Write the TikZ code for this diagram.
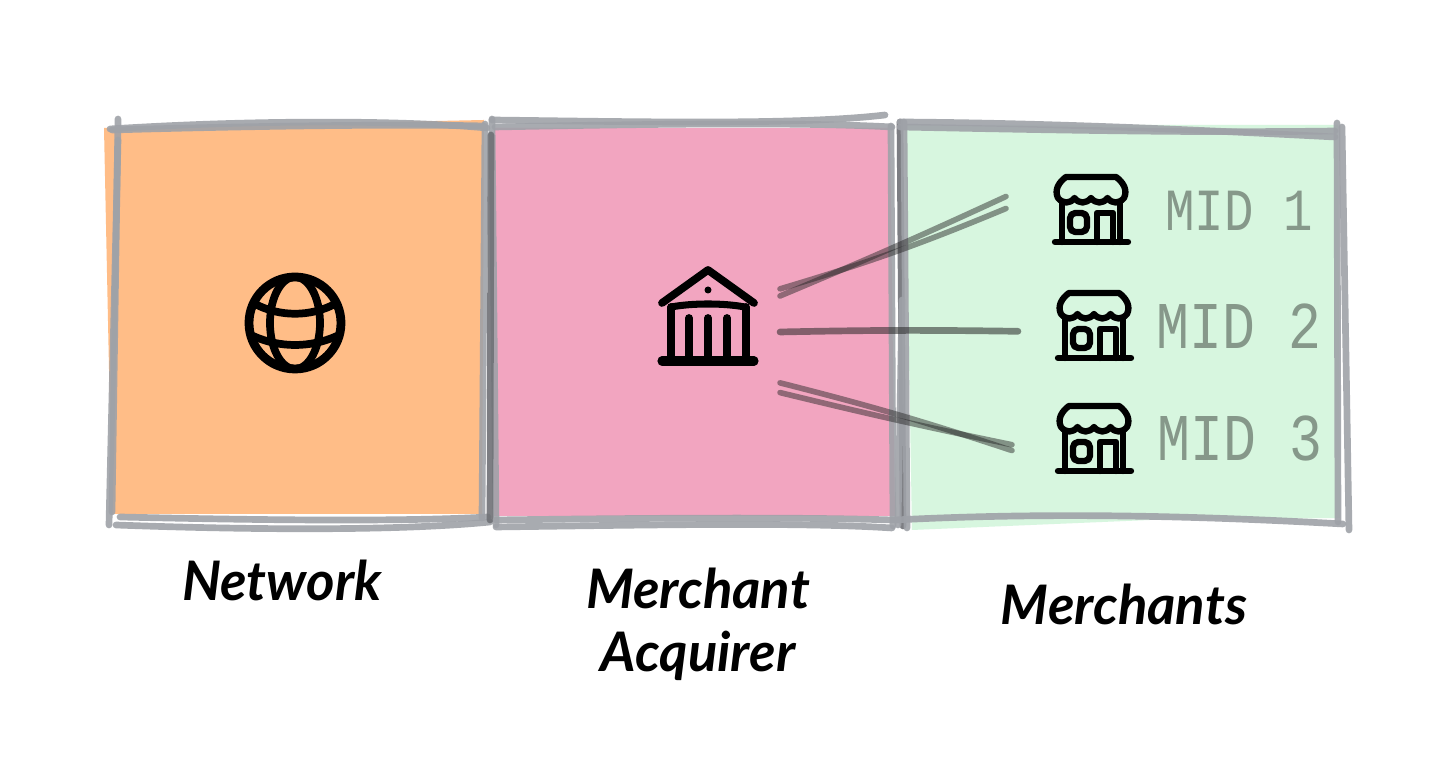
\documentclass[tikz,border=0pt]{standalone}
\usepackage{fontspec}
\setmainfont{Lato}
\setmonofont{Liberation Mono}
\usepackage{tikz}
\definecolor{orangebox}{HTML}{FFBD87}
\definecolor{pinkbox}{HTML}{F2A5C0}
\definecolor{greenbox}{HTML}{D7F6DF}
\definecolor{sketchgrey}{HTML}{9FA2A8}
\definecolor{midgrey}{HTML}{86988A}
\tikzset{
	pics/globeicon/.style={code={
		\draw[iconline, line width=2.5pt] (0,0) circle [x radius=46, y radius=-46];
		\draw[iconline, line width=2.2pt] (0,0) circle [x radius=25, y radius=-46];
		\draw[iconline, line width=2.2pt] (-40,-19) .. controls (-15,-6) and (15,-6) .. (40,-19);
		\draw[iconline, line width=2.2pt] (-42,13) .. controls (-15,25) and (15,25) .. (42,13);
	}},
	pics/bankicon/.style={code={
		\draw[iconline, line width=2.2pt] (-46,-15) -- (0,-48) -- (46,-15);
		\fill (0,-28) circle [radius=3.5];
		\draw[iconline, line width=2pt] (-37,-11) .. controls (-15,-15) and (15,-15) .. (37,-11);
		\draw[iconline, line width=2.2pt] (-37,-11) -- (-37,42);
		\draw[iconline, line width=2.2pt] (38,-11) -- (38,42);
		\foreach \x in {-19,0,19}
			\draw[iconline, line width=2.2pt] (\x,0) -- (\x,42);
		\draw[iconline, line width=2.6pt] (-46,43) -- (46,43);
	}},
	pics/shopicon/.style={code={
		\draw[iconline, line width=1.8pt] (-33,-12) .. controls (-37,-20) and (-32,-28) .. (-25,-33) -- (25,-33) .. controls (32,-28) and (37,-20) .. (33,-12)
			.. controls (28,-6) and (21,-6) .. (16.5,-12) .. controls (12,-6) and (5,-6) .. (0,-12)
			.. controls (-5,-6) and (-12,-6) .. (-16.5,-12) .. controls (-21,-6) and (-28,-6) .. (-33,-12);
		\draw[iconline, line width=1.8pt] (-29,-8) -- (-29,32);
		\draw[iconline, line width=1.8pt] (29,-8) -- (29,32);
		\draw[iconline, line width=1.8pt, rounded corners=1.5pt] (-21,3) rectangle (-4,22);
		\draw[iconline, line width=1.8pt] (6,32) -- (6,3) -- (22,3) -- (22,32);
		\draw[iconline, line width=1.8pt] (-36,32) -- (37,32);
	}},
}
\begin{document}
\begin{tikzpicture}[
	x=0.01cm, y=-0.01cm,
	iconline/.style={draw=black, line cap=round, line join=round},
	sketch/.style={draw=sketchgrey, line width=1.9pt, line cap=round, opacity=0.9},
	darksketch/.style={draw=sketchgrey!70!black, line width=1.9pt, line cap=round, opacity=0.9},
	wireline/.style={draw=black!85, line width=1.6pt, line cap=round, opacity=0.48},
	iconnode/.style={rectangle, inner sep=0pt, outer sep=0pt, minimum height=0.8cm},
	titlenode/.style={font=\fontsize{15.5}{23}\selectfont\itshape\bfseries, align=center, inner sep=0pt},
	midnode/.style={font=\fontsize{17}{20}\selectfont\ttfamily, text=midgrey, inner sep=0pt, xscale=0.82},
	]
	\useasboundingbox (0,0) rectangle (1456,771);
	\fill[white] (0,0) rectangle (1456,771);
	%Boxes
	\fill[orangebox] (104,128) -- (484,120) -- (482,514) -- (112,514) -- cycle;
	\fill[pinkbox] (494,128) -- (890,128) -- (895,516) -- (494,516) -- cycle;
	\fill[greenbox] (905,125) -- (1338,125) -- (1340,518) -- (1150,520) -- (912,530) -- cycle;
	%Sketch lines
	\draw[sketch] (110,129) .. controls (250,120) and (400,120) .. (487,128);
	\draw[sketch] (112,130) .. controls (250,126) and (400,124) .. (484,126);
	\draw[sketch] (118,119) -- (112,512);
	\draw[sketch] (118,140) -- (109,525);
	\draw[sketch] (485,124) -- (482,518);
	\draw[sketch] (120,517) .. controls (250,520) and (400,522) .. (488,517);
	\draw[sketch] (116,525) .. controls (250,530) and (400,531) .. (490,522);
	\draw[sketch] (492,119) -- (496,525);
	\draw[darksketch] (491,135) -- (490,520);
	\draw[sketch] (492,120) .. controls (650,122) and (800,125) .. (885,115);
	\draw[sketch] (495,127) .. controls (650,124) and (800,122) .. (892,127);
	\draw[sketch] (496,520) .. controls (650,518) and (800,517) .. (892,520);
	\draw[sketch] (496,527) .. controls (650,525) and (800,522) .. (892,528);
	\draw[sketch] (891,126) -- (893,526);
	\draw[darksketch] (900,122) -- (903,526);
	\draw[sketch] (904,122) -- (907,528);
	\draw[sketch] (902,300) -- (898,525);
	\draw[sketch] (900,122) .. controls (1050,123) and (1200,130) .. (1335,137);
	\draw[sketch] (900,127) .. controls (1050,130) and (1200,133) .. (1335,131);
	\draw[sketch] (1337,123) -- (1338,522);
	\draw[sketch] (1342,127) -- (1349,530);
	\draw[sketch] (895,520) .. controls (1050,512) and (1200,516) .. (1343,524);

	%Nodes
	\node[iconnode] (globe) at (295,323) {};
	\node[iconnode, minimum width=1.44cm, minimum height=1.6cm] (bank) at (708,318) {};
	\node[iconnode, minimum width=1.7cm] (shop1) at (1091,210) {};
	\node[iconnode, minimum width=1.52cm] (shop2) at (1094,326) {};
	\node[iconnode, minimum width=1.64cm] (shop3) at (1094,439) {};
	\node[midnode] (mid1) at (1239,211) {MID 1};
	\node[midnode, font=\fontsize{19}{20}\selectfont\ttfamily] (mid2) at (1239,326) {MID 2};
	\node[midnode, font=\fontsize{19}{20}\selectfont\ttfamily] (mid3) at (1240,438) {MID 3};
	\node[titlenode] (network) at (282,580) {Network};
	\node[titlenode] (acquirer) at (698,624) {Merchant\\[-0.18cm]Acquirer};
	\node[titlenode] (merchants) at (1124,604) {Merchants};

	%Icons
	\pic at (globe) {globeicon};
	\pic at (bank) {bankicon};
	\pic at (shop1) {shopicon};
	\pic at (shop2) {shopicon};
	\pic at (shop3) {shopicon};

	%Lines
	\draw[wireline] (bank.17) to[bend right=1] (shop1.171);
	\draw[wireline] (bank.22) to[bend right=3] (shop1.179);
	\draw[wireline, line width=1.9pt, opacity=0.55] (bank.-11) to[bend left=1] (shop2.184);
	\draw[wireline] (bank.-42) to[bend left=2] (shop3.188);
	\draw[wireline] (bank.-46) to[bend right=1] (shop3.184);
\end{tikzpicture}
\end{document}
